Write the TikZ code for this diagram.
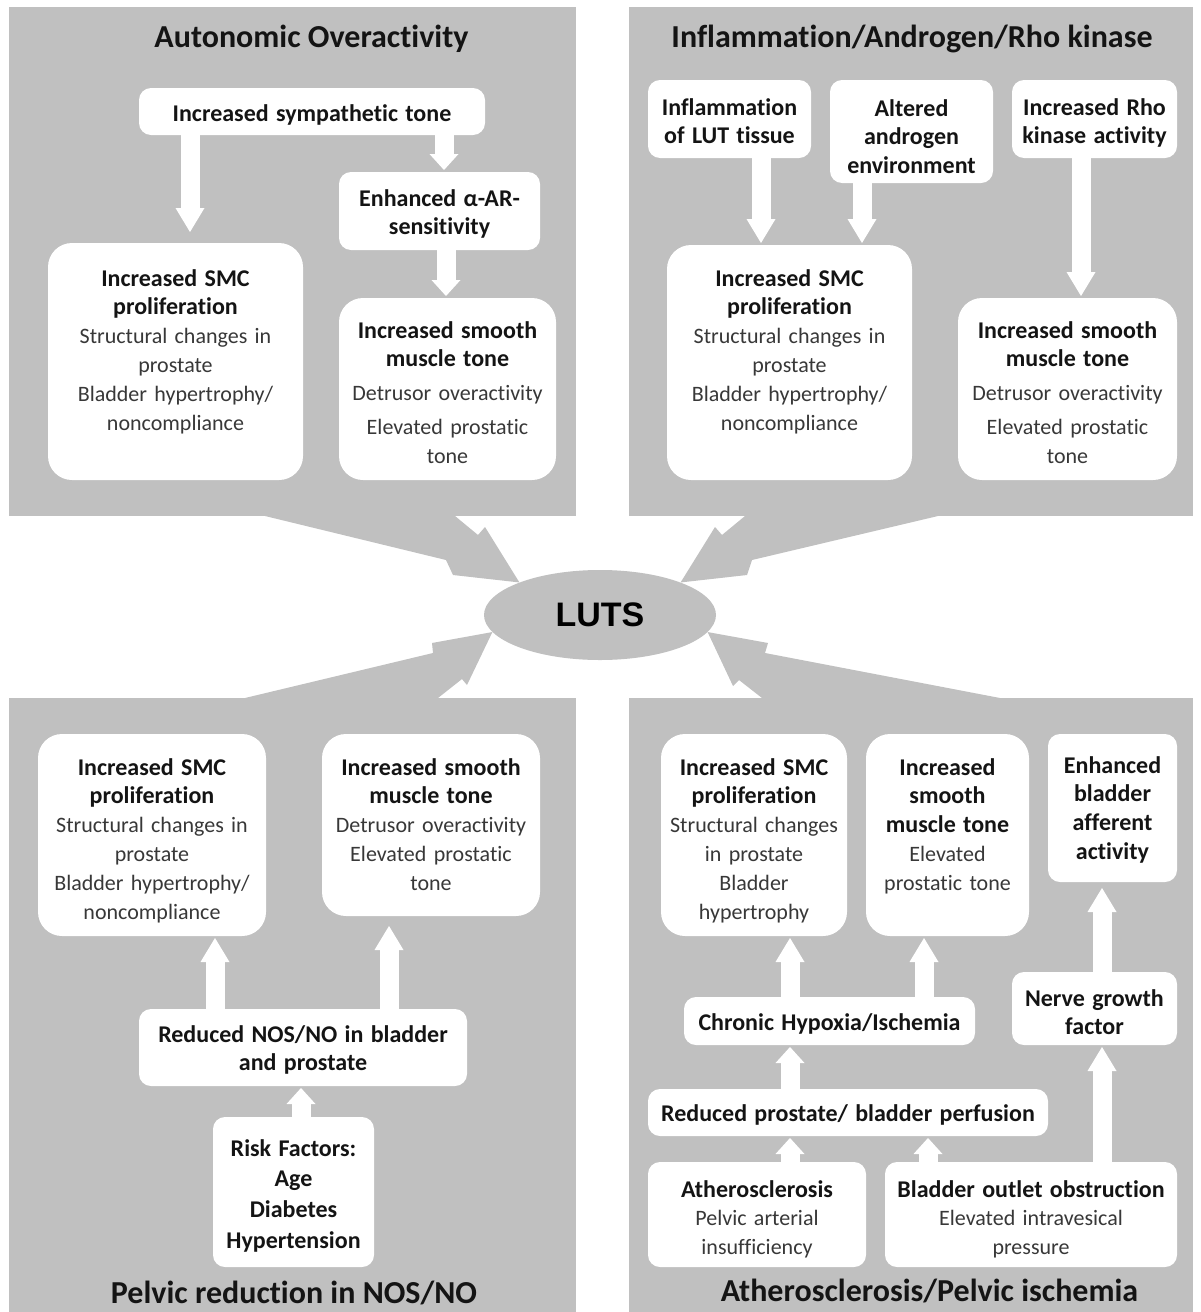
\documentclass[tikz,border=0pt]{standalone}
\usepackage{fontspec}
\setmainfont{Carlito}[Ligatures=CommonOff]
\newfontfamily\lutsfont{Liberation Sans}
\usepackage{xcolor}
\usepackage{tikz}
\usetikzlibrary{arrows.meta,shapes.geometric}
\definecolor{pnlgrey}{RGB}{192,192,192}
\newcommand{\hdln}[1]{\textcolor{black!92}{\fontsize{24}{28.8}\selectfont\bfseries #1}}
\newcommand{\txln}[1]{\textcolor{black!78}{\fontsize{22}{28.8}\selectfont #1}}
\tikzset{
  pnl/.style={fill=pnlgrey},
  ttl/.style={anchor=base,inner sep=0pt,font=\fontsize{32}{38}\selectfont\bfseries,text=black!92},
  bx/.style={fill=white,rounded corners=12pt,inner sep=0pt,outer sep=0pt,align=center,anchor=north,font=\fontsize{22}{28.8}\selectfont},
  bbx/.style={bx,rounded corners=24pt},
  tb/.style 2 args={text height=#1,text depth=#2},
  barr/.style={draw=white,line width=19pt,-{Triangle[width=29pt,length=24pt,line width=0pt]},shorten >=2pt},
  sbarr/.style={barr,-{Triangle[width=29pt,length=16pt,line width=0pt]}},
}

\begin{document}
\begin{tikzpicture}[x=1pt,y=-1pt]
  \fill[white] (0,0) rectangle (1200,1312);
  \useasboundingbox (0,0) rectangle (1200,1312);

  \fill[pnl] (9,7) rectangle (576,516);
  \fill[pnl] (629,7) rectangle (1193,516);
  \fill[pnl] (9,698) rectangle (576,1312);
  \fill[pnl] (629,698) rectangle (1193,1312);

  \node[ellipse,fill=pnlgrey,minimum width=232pt,minimum height=90pt,inner sep=0pt,
        font=\lutsfont\fontsize{34}{40}\selectfont\bfseries] (luts) at (600,615) {LUTS};
  \fill[pnl] (265,516) -- (446,560) -- (453,575) -- (luts.158) -- (485,527) -- (478,535) -- (455,516) -- cycle;
  \fill[pnl] (938,516) -- (752,560) -- (747,575) -- (luts.22) -- (715,527) -- (722,535) -- (745,516) -- cycle;
  \fill[pnl] (245,698) -- (433,653) -- (432,643) -- (luts.189) -- (467,685) -- (462,679) -- (438,698) -- cycle;
  \fill[pnl] (1000,698) -- (765,653) -- (768,643) -- (luts.351) -- (733,686) -- (739,680) -- (762,698) -- cycle;

  \node[ttl] (ttlao) at (311.5,47) {Autonomic Overactivity};
  \node[bx,text width=346pt,tb={33pt}{14pt}] (symp) at (312,88) {\hdln{Increased sympathetic tone}};
  \node[bx,text width=201pt,tb={34pt}{44pt}] (alpha) at (439.5,172) {\hdln{Enhanced α-AR-}\\\hdln{sensitivity}};
  \node[bbx,text width=255pt,tb={43pt}{194pt}] (tlsmc) at (175.5,243) {\hdln{Increased SMC}\\\hdln{proliferation}\\\txln{Structural changes in}\\\txln{prostate}\\\txln{Bladder hypertrophy/}\\\txln{noncompliance}};
  \node[bbx,text width=217pt,tb={40pt}{142pt}] (tlsmth) at (447.5,298) {\hdln{Increased smooth}\\\hdln{muscle tone}\\[5pt]\txln{Detrusor overactivity}\\[5pt]\txln{Elevated prostatic}\\\txln{tone}};

  \node[ttl] (ttlin) at (912,47) {Inflammation/Androgen/Rho kinase};
  \node[bx,text width=163pt,tb={35pt}{43pt}] (inflam) at (729.5,80) {\hdln{Inflammation}\\\hdln{of LUT tissue}};
  \node[bx,text width=163pt,tb={36pt}{67pt}] (andro) at (911.5,80) {\hdln{Altered}\\\hdln{androgen}\\\hdln{environment}};
  \node[bx,text width=165pt,tb={35pt}{43pt}] (rho) at (1094.5,80) {\hdln{Increased Rho}\\\hdln{kinase activity}};
  \node[bbx,text width=245pt,tb={41pt}{194pt}] (trsmc) at (789.5,245) {\hdln{Increased SMC}\\\hdln{proliferation}\\\txln{Structural changes in}\\\txln{prostate}\\\txln{Bladder hypertrophy/}\\\txln{noncompliance}};
  \node[bbx,text width=219pt,tb={40pt}{142pt}] (trsmth) at (1067.5,298) {\hdln{Increased smooth}\\\hdln{muscle tone}\\[5pt]\txln{Detrusor overactivity}\\[5pt]\txln{Elevated prostatic}\\\txln{tone}};

  \node[ttl] (ttlno) at (294,1303) {Pelvic reduction in NOS/NO};
  \node[bbx,text width=228pt,tb={41pt}{161pt}] (blsmc) at (152,734) {\hdln{Increased SMC}\\\hdln{proliferation}\\\txln{Structural changes in}\\\txln{prostate}\\\txln{Bladder hypertrophy/}\\\txln{noncompliance}};
  \node[bbx,text width=218pt,tb={41pt}{141pt}] (blsmth) at (431,734) {\hdln{Increased smooth}\\\hdln{muscle tone}\\\txln{Detrusor overactivity}\\\txln{Elevated prostatic}\\\txln{tone}};
  \node[bx,text width=328pt,tb={33pt}{44pt}] (nos) at (303,1009) {\hdln{Reduced NOS/NO in bladder}\\\hdln{and prostate}};
  \node[bx,text width=161pt,tb={39pt}{111pt}] (risk) at (293.5,1117) {\hdln{Risk Factors:}\\[2pt]\hdln{Age}\\[2pt]\hdln{Diabetes}\\[2pt]\hdln{Hypertension}};

  \node[ttl] (ttlat) at (929.5,1301) {Atherosclerosis/Pelvic ischemia};
  \node[bbx,text width=186pt,tb={41pt}{161pt}] (brsmc) at (754,734) {\hdln{Increased SMC}\\\hdln{proliferation}\\\txln{Structural changes}\\\txln{in prostate}\\\txln{Bladder}\\\txln{hypertrophy}};
  \node[bbx,text width=163pt,tb={41pt}{161pt}] (brsmth) at (947.5,734) {\hdln{Increased}\\\hdln{smooth}\\\hdln{muscle tone}\\\txln{Elevated}\\\txln{prostatic tone}};
  \node[bx,text width=129pt,tb={39pt}{109pt}] (aff) at (1112.5,734) {\hdln{Enhanced}\\\hdln{bladder}\\\hdln{afferent}\\\hdln{activity}};
  \node[bx,text width=291pt,tb={33pt}{15pt}] (hyp) at (829.5,997) {\hdln{Chronic Hypoxia/Ischemia}};
  \node[bx,text width=165pt,tb={34pt}{39pt}] (ngf) at (1094.5,972) {\hdln{Nerve growth}\\\hdln{factor}};
  \node[bx,text width=400pt,tb={32pt}{15pt}] (perf) at (848,1089) {\hdln{Reduced prostate/ bladder perfusion}};
  \node[bx,text width=218pt,tb={35pt}{70pt}] (ath) at (757,1162) {\hdln{Atherosclerosis}\\\txln{Pelvic arterial}\\\txln{insufficiency}};
  \node[bx,text width=292pt,tb={35pt}{70pt}] (boo) at (1031,1162) {\hdln{Bladder outlet obstruction}\\\txln{Elevated intravesical}\\\txln{pressure}};

  \draw[barr,shorten >=11pt] (190,0 |- symp.south) -- (190,0 |- tlsmc.north);
  \draw[sbarr] (444,0 |- symp.south) -- (444,0 |- alpha.north);
  \draw[sbarr] (446,0 |- alpha.south) -- (446,0 |- tlsmth.north);
  \draw[barr] (761,0 |- inflam.south) -- (761,0 |- trsmc.north);
  \draw[barr] (862,0 |- andro.south) -- (862,0 |- trsmc.north);
  \draw[barr] (1081,0 |- rho.south) -- (1081,0 |- trsmth.north);
  \draw[barr] (215,0 |- nos.north) -- (215,0 |- blsmc.south);
  \draw[barr,shorten >=10pt] (389,0 |- nos.north) -- (389,0 |- blsmth.south);
  \draw[sbarr] (301,0 |- risk.north) -- (301,0 |- nos.south);
  \draw[barr] (790,0 |- hyp.north) -- (790,0 |- brsmc.south);
  \draw[barr] (924,0 |- hyp.north) -- (924,0 |- brsmth.south);
  \draw[sbarr] (790,0 |- perf.north) -- (790,0 |- hyp.south);
  \draw[sbarr] (790,0 |- ath.north) -- (790,0 |- perf.south);
  \draw[sbarr] (928,0 |- boo.north) -- (928,0 |- perf.south);
  \draw[barr] (1102,0 |- boo.north) -- (1102,0 |- ngf.south);
  \draw[barr,shorten >=6pt] (1102,0 |- ngf.north) -- (1102,0 |- aff.south);
\end{tikzpicture}
\end{document}
